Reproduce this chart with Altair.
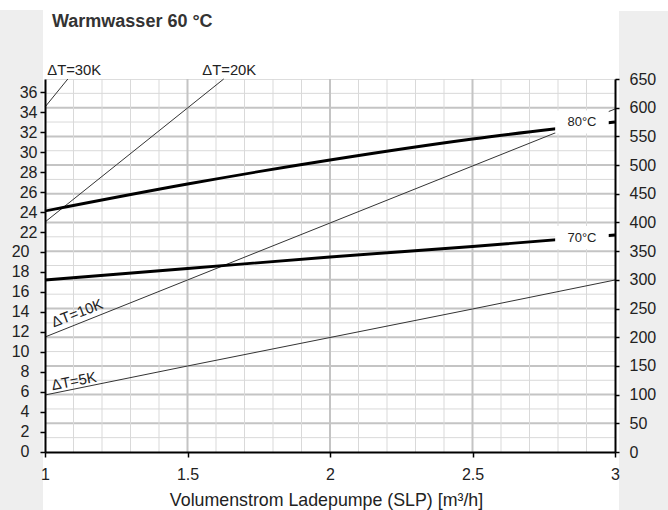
import altair as alt
import pandas as pd

# Volumenstrom der Ladepumpe [m³/h]
flow = [1.0, 1.5, 2.0, 2.5, 3.0]

# Leistungskurven (linke Achse)
power_80 = [24.1, 26.8, 29.2, 31.3, 33.0]
power_70 = [17.2, 18.35, 19.5, 20.55, 21.7]

# Spreizungslinien (linke Achse)
dt5 = [5.7, 8.6, 11.45, 14.3, 17.2]
dt10 = [11.5, 17.2, 22.9, 28.6, 34.3]
dt20_flow = [1.0, 1.25, 1.5, 1.627]
dt20 = [23.0, 28.7, 34.4, 37.3]
dt30_flow = [1.0, 1.08]
dt30 = [34.5, 37.3]

# Achsen
left_ticks = list(range(0, 37, 2))
left_ticks_low = [0, 2, 4, 6, 8, 10, 12, 14, 16, 18, 20]
right_ticks = list(range(0, 651, 50))
x_ticks = [1.0, 1.5, 2.0, 2.5, 3.0]
left_max = 37.3
right_max = 650

# Gitter (in Einheiten der rechten Achse bzw. m³/h)
grid_minor_r = [25, 75, 125, 175, 225, 275, 325, 375, 425, 475, 525, 575, 625]
grid_major_r = [50, 100, 150, 200, 250, 300, 350, 400, 450, 500, 550, 600]
grid_minor_x = [1.1, 1.2, 1.3, 1.4, 1.6, 1.7, 1.8, 1.9,
                2.1, 2.2, 2.3, 2.4, 2.6, 2.7, 2.8, 2.9]
grid_major_x = [1.5, 2.0, 2.5]

# Beschriftungen
title_text = "Warmwasser 60 °C"
curve_labels = ["80°C", "70°C"]
curve_label_x = [2.884, 2.884]
curve_label_y = [33.0, 21.45]

dt_labels = ["ΔT=30K", "ΔT=20K", "ΔT=10K", "ΔT=5K"]
dt_label_x = [1.008, 1.552, 1.114, 1.102]
dt_label_y = [37.75, 37.75, 13.8, 7.0]
dt_label_angle = [0, 0, 339, 349]

FONT = "Liberation Sans"
TXT = "#222222"

xscale = alt.Scale(domain=[1, 3], nice=False, zero=False)
lscale = alt.Scale(domain=[0, left_max], nice=False, zero=False)
rscale = alt.Scale(domain=[0, right_max], nice=False, zero=False)

axis_common = dict(
    domainColor="black", domainWidth=2, tickColor="black", tickWidth=1.5,
    labelFont=FONT, labelFontSize=16, labelColor=TXT, grid=False, zindex=1,
)
x_axis = alt.Axis(
    values=x_ticks, format="~g", tickSize=5, labelPadding=9,
    title="Volumenstrom Ladepumpe (SLP) [m³/h]", titleFont=FONT,
    titleFontSize=17.8, titleFontWeight="normal", titleColor=TXT,
    titlePadding=9, titleX=281, labelFlush=False, **axis_common,
)
# upper kW labels come from the axis, the lower ones are set further out below
left_axis = alt.Axis(
    orient="left", values=left_ticks, title=None, tickSize=5, labelPadding=3,
    labelExpr="datum.value > 20 ? datum.label : ''",
    **axis_common,
)
right_axis = alt.Axis(orient="right", values=right_ticks, title=None, tickSize=4,
                      labelPadding=10, **axis_common)


def X(field):
    return alt.X(field, scale=xscale, axis=x_axis)


def YL(field):
    return alt.Y(field, scale=lscale, axis=left_axis)


# --- rechte Achse mit horizontalem Gitter ---
hgrid_minor = alt.Chart(pd.DataFrame({"v": grid_minor_r})).mark_rule(
    color="#d9d9d9", strokeWidth=1
).encode(y=alt.Y("v:Q", scale=rscale, axis=right_axis))
hgrid_major = alt.Chart(pd.DataFrame({"v": grid_major_r})).mark_rule(
    color="#c4c4c4", strokeWidth=2
).encode(y=alt.Y("v:Q", scale=rscale, axis=right_axis))
right_group = alt.layer(hgrid_minor, hgrid_major)

# --- graue Randflächen und Überschrift ---
panel = pd.DataFrame({"t": [title_text]})
strip_left = alt.Chart(panel).mark_rect(color="#eeeeee").encode(
    x=alt.value(-45), x2=alt.value(-2), y=alt.value(-69), y2=alt.value(431)
)
strip_right = alt.Chart(panel).mark_rect(color="#eeeeee").encode(
    x=alt.value(574), x2=alt.value(623), y=alt.value(-68), y2=alt.value(431)
)
heading = alt.Chart(panel).mark_text(
    font=FONT, fontSize=18, fontWeight="bold", color="#333333",
    align="left", baseline="alphabetic",
).encode(x=alt.value(7), y=alt.value(-52), text="t:N")

# lower labels of the kW scale
low_labels = alt.Chart(pd.DataFrame({"v": left_ticks_low})).mark_text(
    font=FONT, fontSize=16, color=TXT, align="right", baseline="middle",
).encode(x=alt.value(-15.5), y=YL("v:Q"), text="v:Q")

# --- vertikales Gitter ---
vgrid_minor = alt.Chart(pd.DataFrame({"v": grid_minor_x})).mark_rule(
    color="#d9d9d9", strokeWidth=1
).encode(x=X("v:Q"))
vgrid_major = alt.Chart(pd.DataFrame({"v": grid_major_x})).mark_rule(
    color="#c4c4c4", strokeWidth=2
).encode(x=X("v:Q"))

# --- Kurven ---
rows = []
for name, xs, ys in [("dt5", flow, dt5), ("dt10", flow, dt10),
                     ("dt20", dt20_flow, dt20), ("dt30", dt30_flow, dt30)]:
    rows += [{"x": a, "y": b, "s": name} for a, b in zip(xs, ys)]
thin_df = pd.DataFrame(rows)
rows = []
for name, ys in [("80", power_80), ("70", power_70)]:
    rows += [{"x": a, "y": b, "s": name} for a, b in zip(flow, ys)]
thick_df = pd.DataFrame(rows)

thin_lines = alt.Chart(thin_df).mark_line(color="#333333", strokeWidth=1).encode(
    x=X("x:Q"), y=YL("y:Q"), detail="s:N",
)
thick_lines = alt.Chart(thick_df).mark_line(
    color="black", strokeWidth=2.8, interpolate="monotone"
).encode(x=X("x:Q"), y=YL("y:Q"), detail="s:N")

# --- Kurvenbeschriftungen mit weißem Hintergrund ---
cl_df = pd.DataFrame({"t": curve_labels, "x": curve_label_x, "y": curve_label_y})
label_boxes = alt.Chart(cl_df).transform_calculate(
    x0="datum.x - 0.094", x1="datum.x + 0.094",
    y0="datum.y - 1.15", y1="datum.y + 1.15",
).mark_rect(color="white").encode(
    x=X("x0:Q"), x2="x1:Q", y=YL("y0:Q"), y2="y1:Q",
)
label_text = alt.Chart(cl_df).mark_text(
    font=FONT, fontSize=13, color=TXT, align="center", baseline="middle"
).encode(x=X("x:Q"), y=YL("y:Q"), text="t:N")

dt_df = pd.DataFrame({"t": dt_labels, "x": dt_label_x, "y": dt_label_y,
                      "a": dt_label_angle})
dt_top = alt.Chart(dt_df.iloc[:2]).mark_text(
    font=FONT, fontSize=14.8, color=TXT, align="left", baseline="alphabetic"
).encode(x=X("x:Q"), y=YL("y:Q"), text="t:N")
dt_rot = alt.Chart(dt_df.iloc[2:]).mark_text(
    font=FONT, fontSize=14.8, color=TXT, align="center", baseline="middle"
).encode(
    x=X("x:Q"), y=YL("y:Q"), angle=alt.Angle("a:Q", scale=None), text="t:N",
)

left_group = alt.layer(
    strip_left, strip_right, heading, low_labels, vgrid_minor, vgrid_major,
    thin_lines, thick_lines, label_boxes, label_text, dt_top, dt_rot,
)

chart = alt.layer(right_group, left_group).resolve_scale(
    y="independent"
).properties(
    width=570, height=373,
    autosize=alt.AutoSizeParams(type="none"),
    padding={"left": 45, "top": 79, "right": 53, "bottom": 58},
).configure_view(
    stroke="black", strokeWidth=1
).configure(
    background="white", font=FONT
)

chart.save("out.html", embed_options={"renderer": "svg", "actions": False})
